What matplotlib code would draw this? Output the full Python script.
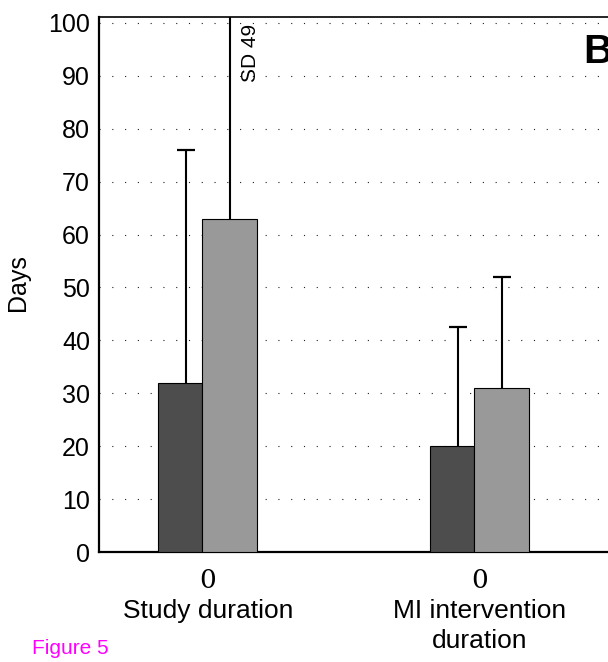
import matplotlib
matplotlib.use("Agg")
import matplotlib.pyplot as plt
import matplotlib.transforms as mtransforms
import numpy as np

# ---- data ----
categories = ["Study duration", "MI intervention\nduration"]
count_labels = ["0", "0"]
dark_means = [32, 20]
dark_sds = [44, 22.5]
light_means = [63, 31]
light_sds = [49, 21]
y_ticks = [0, 10, 20, 30, 40, 50, 60, 70, 80, 90, 100]

DARK = "#4d4d4d"
LIGHT = "#999999"

plt.rcParams["font.family"] = ["Liberation Sans", "DejaVu Sans"]

W, H = 608, 662
fig = plt.figure(figsize=(W / 100, H / 100), dpi=100)

# axes geometry in pixels (axes runs past the right edge of the figure)
ax_left, ax_right, ax_top, ax_bottom = 99, 720, 17, 552
ax = fig.add_axes([ax_left / W, (H - ax_bottom) / H,
                   (ax_right - ax_left) / W, (ax_bottom - ax_top) / H])

px_per_unit = 272.0
x = np.arange(len(categories), dtype=float)
dark_w = 44 / px_per_unit
light_w = 55 / px_per_unit

ax.set_xlim(-(202 - ax_left) / px_per_unit, (ax_right - 202) / px_per_unit)
ax.set_ylim(0, 101.13)

# dotted horizontal grid behind the bars
ax.set_yticks(y_ticks)
ax.yaxis.grid(True, linestyle=(0, (1, 10.5)), linewidth=0.8, color="#222222")
ax.set_axisbelow(True)

ax.bar(x - dark_w / 2, dark_means, width=dark_w, color=DARK,
       edgecolor="black", linewidth=0.8, zorder=3)
ax.bar(x + light_w / 2, light_means, width=light_w, color=LIGHT,
       edgecolor="black", linewidth=0.8, zorder=3)

# one-sided (upper) SD error bars
dark_err_x = x - dark_w / 2 + 6 / px_per_unit
light_err_x = x + light_w / 2
for ex, m, s in ((dark_err_x, dark_means, dark_sds),
                 (light_err_x, light_means, light_sds)):
    _, caps, _ = ax.errorbar(ex, m, yerr=[np.zeros(len(x)), s],
                             fmt="none", ecolor="black", elinewidth=1.5,
                             capsize=6.5, capthick=1.6, zorder=2)
    caps[0].set_visible(False)  # no cap at the bar top

# SD value printed beside the bar whose error bar leaves the plot
offset = mtransforms.offset_copy(ax.transData, fig=fig, x=11, y=0, units="dots")
ax.text(light_err_x[0], 99.8, f"SD {light_sds[0]:g}", rotation=90,
        ha="left", va="top", fontsize=15, transform=offset)

# axis styling
ax.spines["right"].set_visible(False)
ax.spines["left"].set_linewidth(1.6)
ax.spines["bottom"].set_linewidth(1.6)
ax.spines["top"].set_linewidth(1.2)
ax.tick_params(axis="both", length=0, labelsize=18)
ax.tick_params(axis="y", pad=6.5)

label_x = x + 6 / px_per_unit
ax.set_xticks(label_x)
ax.set_xticklabels(categories, fontsize=19, linespacing=1.35)
ax.tick_params(axis="x", pad=33.5)

for lx, c in zip(label_x, count_labels):
    ax.text(lx, -5.4, c, ha="center", va="center", fontsize=19,
            family=["DejaVu Serif"], clip_on=False)

ax.set_ylabel("Days", fontsize=18)
ax.yaxis.set_label_coords((30 - ax_left) / (ax_right - ax_left),
                          (ax_bottom - 283) / (ax_bottom - ax_top))

fig.text(583 / W, (H - 63) / H, "B", fontsize=29, fontweight="bold",
         ha="left", va="baseline")
fig.text(32 / W, (H - 654) / H, "Figure 5", fontsize=15, color="#ff00ff",
         ha="left", va="baseline")

fig.savefig("out.png", dpi=100)
